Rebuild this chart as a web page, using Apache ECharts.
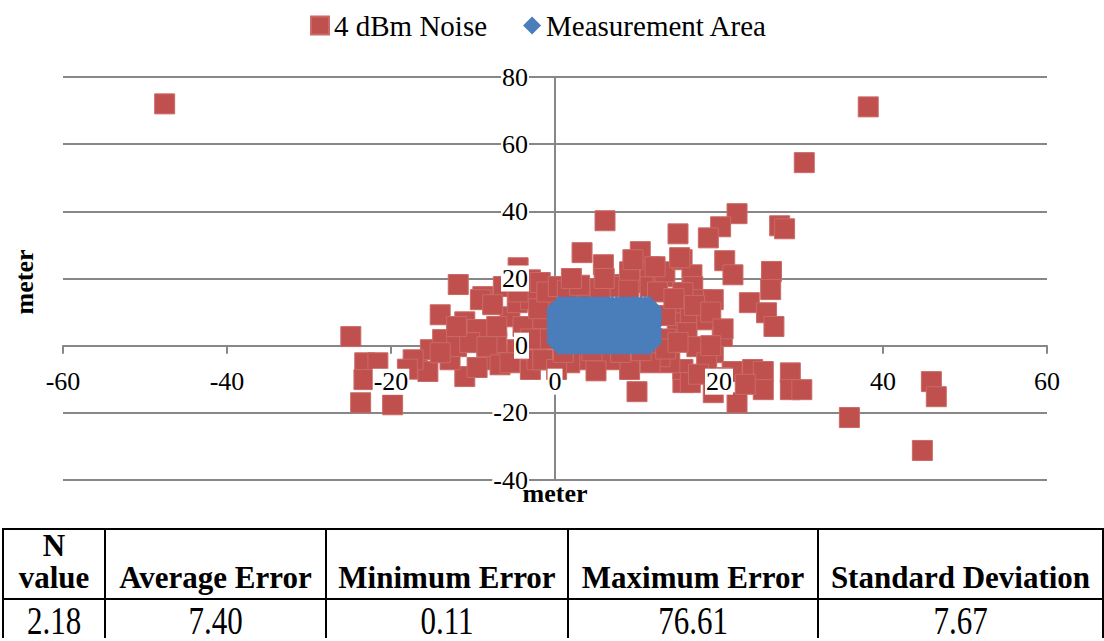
<!DOCTYPE html>
<html>
<head>
<meta charset="utf-8">
<script src="https://cdn.jsdelivr.net/npm/echarts@6/dist/echarts.min.js"></script>
<style>
  html, body { margin: 0; padding: 0; background: #fff; overflow: hidden; font-family: 'Liberation Serif', serif; }
  #chart { position: absolute; left: 0; top: 0; width: 1104px; height: 641px; }
  #tbl { position: absolute; left: 2px; top: 528px; }
  #tbl table { border-collapse: collapse; table-layout: fixed; width: 1100px; font-family: 'Liberation Serif', 'Times New Roman', serif; color: #000; }
  #tbl th, #tbl td { border: 2px solid #000; padding: 0; text-align: center; }
  #tbl th { font-size: 31px; font-weight: bold; line-height: 32px; height: 62px; vertical-align: bottom; padding-bottom: 4px; }
  #tbl td { font-size: 31px; height: 38px; vertical-align: top; font-weight: normal; line-height: 30px; border-bottom: none; }
  #tbl td span { display: inline-block; transform: scaleY(1.3); transform-origin: 50% 0; margin-top: 1px; }
</style>
</head>
<body>
<div id="chart"></div>
<div id="tbl"></div>
<script>
// ---- data ----
const seriesNames = ['4 dBm Noise', 'Measurement Area'];
const noiseX = [
  -47.6, 38.2, 30.4, 22.2, 20.2, 18.7, 15.0, 6.1, 3.3, 27.4, 28.0, 26.4, 26.3, 23.7, 25.8, 26.7, 20.7, 21.7,
  24.1, 25.4, 28.7, 25.4, 28.7, 22.2, 19.3, 10.0, 15.6, 21.6, 30.1, 35.9, 45.9, 46.5, 44.8, 23.2, 20.4,
  -24.9, -23.2, -21.6, -23.3, -23.7, -19.8, -16.8, -15.5, -14.0, -11.0, -11.0, -9.5, -15.2, -13.7, -11.8,
  -8.8, -4.5, -6.3, -3.0, -5.5, -6.3, -3.0, -2.2, -12.8, -8.3, -7.1, -12.0, -9.1, -7.6, -4.6, -3.0, -1.8,
  -0.9, -3.9, -7.1, -10.4, -14.0, -8.3, -4.6, -1.5, -12.0, -9.5, -6.7, -5.5, -1.5, -1.5, -2.0, -1.0, -3.0,
  -4.5, -17.3, -18.0,
  0.4, 2.7, 4.3, 7.1, 7.9, 10.4, 11.6, 13.2, 9.1, 11.6, 13.4, 15.5, 16.7, 16.8, 18.0, 15.6, 14.9, 14.9,
  16.5, 16.1, 18.5, 17.3, 19.3, 18.5, 15.6, 16.5, 14.0, 12.8, 11.6, 9.1, 6.7, 3.9, 1.8, 0.2, 10.4, 5.9,
  9.5, 15.2, 12.2, 19.3, 20.4, 1.5, 3.0, 5.5, 9.0, 12.5, 6.0, 2.0, 13.5, 13.5, 14.5, 17.0, 19.0, 20.5,
  19.0, 13.5, 15.0, 1.0, 4.5, 8.0, 10.5, 5.0, 17.5
];
const noiseY = [
  72.0, 71.1, 54.5, 39.3, 35.4, 32.1, 33.3, 37.2, 27.7, 35.7, 34.8, 22.1, 16.7, 12.8, 9.8, 5.7, 25.3, 21.1,
  -7.1, -7.7, -8.1, -13.1, -13.1, -17.0, -14.0, -13.7, -11.0, -7.7, -13.1, -21.4, -10.7, -15.2, -31.2, -11.5, -9.5,
  2.7, -5.1, -5.1, -10.1, -17.0, -17.6, -6.3, -7.7, 9.2, -9.2, 7.1, 4.8, -1.2, 1.8, 18.2,
  14.6, 23.2, 17.6, 19.6, 8.6, -3.3, -7.1, -4.2, -4.2, -4.2, 0.9, -0.3, 13.7, 12.2, 12.8, 13.7, 18.8,
  12.8, 5.7, 5.7, 0.9, -2.1, -0.3, -1.2, -4.2, 5.7, -6.5, -5.7, -5.1, 2.0, 8.0, 11.0, 16.0, 2.0,
  16.0, -4.2, -7.0,
  17.6, 14.6, 16.7, 18.2, 17.6, 18.8, 17.6, 20.5, 22.0, 23.5, 22.0, 25.6, 21.1, 17.6, 13.7, 15.8, 11.6, 6.8,
  8.6, 3.9, 7.7, -0.3, -2.1, -5.1, -7.1, -11.0, -5.1, -3.3, -5.1, -7.1, -4.2, -4.2, -5.1, -7.1, 28.0, 24.1,
  25.6, 26.2, 23.5, 13.7, 2.7, 16.5, 18.0, 17.0, 16.5, 16.0, 20.0, 20.0, 2.0, 9.0, 14.0, 12.0, 10.0, 5.0,
  0.0, -1.0, 1.0, -2.0, -1.5, -2.0, -1.5, -7.5, -8.5
];
// measurement area grid coordinates (m)
const areaX = [0.5, 1, 1.5, 2, 2.5, 3, 3.5, 4, 4.5, 5, 5.5, 6, 6.5, 7, 7.5, 8, 8.5, 9, 9.5, 10, 10.5, 11, 11.5];
const areaY = [1, 2, 3, 4, 5, 6, 7, 8, 9, 10, 11];
const xTicks = { min: -60, max: 60, interval: 20 };
const yTicks = { min: -40, max: 80, interval: 20 };
const axisTitle = 'meter';
const tableHeaders = ['N<br>value', 'Average Error', 'Minimum Error', 'Maximum Error', 'Standard Deviation'];
const tableValues = ['2.18', '7.40', '0.11', '76.61', '7.67'];
const tableColWidths = [102, 221, 242, 250, 285];

// ---- build ----
const noiseData = noiseX.map((x, i) => [x, noiseY[i]]);
const areaData = [];
areaY.forEach(y => areaX.forEach(x => areaData.push([x, y])));

const FONT = 'Liberation Serif';
const GRIDC = '#878787';
const G = { left: 63, right: 57, top: 77, bottom: 161, width: 1104, height: 641 };
const plotW = G.width - G.left - G.right;   // 984
const plotH = G.height - G.top - G.bottom;  // 403
// label-only axes are shifted so that they sit on the zero lines (like Excel)
const xLabelOffset = -plotH * (0 - yTicks.min) / (yTicks.max - yTicks.min);
const yLabelOffset = -plotW * (0 - xTicks.min) / (xTicks.max - xTicks.min);

const chart = echarts.init(document.getElementById('chart'), null, { renderer: 'svg' });

const labelStyle = { color: '#000', fontSize: 26, fontFamily: FONT, fontWeight: 'normal', backgroundColor: '#fff', padding: [0, 1, 0, 1] };
const gridBox = { left: G.left, right: G.right, top: G.top, bottom: G.bottom, containLabel: false };

chart.setOption({
  animation: false,
  backgroundColor: '#fff',
  textStyle: { fontFamily: FONT },
  legend: {
    data: [{ name: seriesNames[0], icon: 'rect' }, { name: seriesNames[1], icon: 'diamond' }],
    left: 305, top: 6,
    itemWidth: 18, itemHeight: 18, itemGap: 36,
    textStyle: { color: '#000', fontSize: 29, fontFamily: FONT }
  },
  grid: [Object.assign({}, gridBox), Object.assign({}, gridBox)],
  xAxis: [
    {
      type: 'value', gridIndex: 0, min: xTicks.min, max: xTicks.max, interval: xTicks.interval,
      axisLine: { onZero: true, lineStyle: { color: GRIDC, width: 2 } },
      axisTick: { show: true, length: 8, lineStyle: { color: GRIDC, width: 2 } },
      axisLabel: { show: false }, splitLine: { show: false }
    },
    {
      type: 'value', gridIndex: 1, z: 10, position: 'bottom', offset: xLabelOffset,
      min: xTicks.min, max: xTicks.max, interval: xTicks.interval,
      axisLine: { show: false, onZero: false }, axisTick: { show: false },
      axisLabel: Object.assign({ margin: 23 }, labelStyle), splitLine: { show: false }
    }
  ],
  yAxis: [
    {
      type: 'value', gridIndex: 0, min: yTicks.min, max: yTicks.max, interval: yTicks.interval,
      axisLine: { onZero: true, lineStyle: { color: GRIDC, width: 2 } },
      axisTick: { show: false }, axisLabel: { show: false },
      splitLine: { show: true, lineStyle: { color: GRIDC, width: 2 } }
    },
    {
      type: 'value', gridIndex: 1, z: 10, position: 'left', offset: yLabelOffset,
      min: yTicks.min, max: yTicks.max, interval: yTicks.interval,
      axisLine: { show: false, onZero: false }, axisTick: { show: false },
      axisLabel: Object.assign({ margin: 26 }, labelStyle), splitLine: { show: false }
    }
  ],
  graphic: [
    { type: 'text', z: 20, x: 555, y: 493, style: { text: axisTitle, fill: '#000', font: "bold 26px 'Liberation Serif'", textAlign: 'center', textVerticalAlign: 'middle' } },
    { type: 'text', z: 20, x: 24, y: 282, rotation: Math.PI / 2, style: { text: axisTitle, fill: '#000', font: "bold 26px 'Liberation Serif'", textAlign: 'center', textVerticalAlign: 'middle' } }
  ],
  series: [
    {
      name: seriesNames[0], type: 'scatter', xAxisIndex: 0, yAxisIndex: 0, z: 2,
      symbol: 'rect', symbolSize: 20, data: noiseData,
      itemStyle: { color: '#C0504D', borderColor: '#CA6A67', borderWidth: 1, opacity: 1 }
    },
    {
      name: seriesNames[1], type: 'scatter', xAxisIndex: 0, yAxisIndex: 0, z: 3,
      symbol: 'diamond', symbolSize: 26, data: areaData,
      itemStyle: { color: '#4A7EBB', opacity: 1 }
    }
  ]
});

// table
let html = '<table><colgroup>' + tableColWidths.map(w => '<col style="width:' + w + 'px">').join('') + '</colgroup>';
html += '<tr>' + tableHeaders.map(h => '<th>' + h + '</th>').join('') + '</tr>';
html += '<tr>' + tableValues.map(v => '<td><span>' + v + '</span></td>').join('') + '</tr></table>';
document.getElementById('tbl').innerHTML = html;
</script>
</body>
</html>
